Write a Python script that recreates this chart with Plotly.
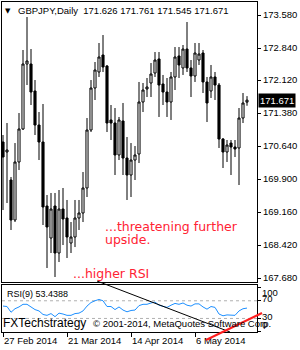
import plotly.graph_objects as go

# ---------------- data ----------------
dates = [
    "2014-02-27", "2014-02-28", "2014-03-03", "2014-03-04", "2014-03-05", "2014-03-06", "2014-03-07",
    "2014-03-10", "2014-03-11", "2014-03-12", "2014-03-13", "2014-03-14",
    "2014-03-17", "2014-03-18", "2014-03-19", "2014-03-20", "2014-03-21",
    "2014-03-24", "2014-03-25", "2014-03-26", "2014-03-27", "2014-03-28",
    "2014-03-31", "2014-04-01", "2014-04-02", "2014-04-03", "2014-04-04",
    "2014-04-07", "2014-04-08", "2014-04-09", "2014-04-10", "2014-04-11",
    "2014-04-14", "2014-04-15", "2014-04-16", "2014-04-17", "2014-04-18",
    "2014-04-21", "2014-04-22", "2014-04-23", "2014-04-24", "2014-04-25",
    "2014-04-28", "2014-04-29", "2014-04-30", "2014-05-01", "2014-05-02",
    "2014-05-05", "2014-05-06", "2014-05-07", "2014-05-08", "2014-05-09",
    "2014-05-12", "2014-05-13", "2014-05-14", "2014-05-15", "2014-05-16",
    "2014-05-19", "2014-05-20", "2014-05-21", "2014-05-22", "2014-05-23",
]

opens = [
    170.732, 170.508, 169.880, 168.983, 170.284, 171.024, 172.481, 172.481, 171.876, 171.113,
    170.732, 169.297, 168.579, 169.297, 168.243, 169.230, 169.028, 168.467, 168.602, 169.028,
    169.140, 169.701, 171.001, 171.943, 172.302, 172.683, 172.436, 171.226, 171.158, 170.441,
    171.203, 170.373, 169.992, 170.328, 170.463, 171.629, 171.921, 172.055, 172.279, 172.594,
    172.033, 171.853, 171.629, 172.190, 172.661, 172.392, 172.817, 172.392, 172.212, 172.571,
    172.728, 172.078, 171.876, 172.190, 172.010, 170.799, 170.508, 170.709, 170.620, 170.598,
    171.270, 171.626,
]
highs = [
    170.889, 171.158, 169.947, 170.709, 171.382, 172.795, 173.535, 172.817, 172.122, 171.405,
    171.584, 169.544, 169.589, 169.589, 169.656, 169.701, 169.432, 168.938, 169.432, 169.432,
    170.059, 171.270, 172.122, 172.526, 172.952, 173.131, 172.459, 171.562, 171.494, 171.293,
    171.607, 170.844, 170.709, 170.642, 172.078, 172.055, 172.167, 172.503, 172.750, 172.750,
    172.235, 172.167, 172.302, 172.862, 172.862, 172.907, 173.423, 172.571, 172.952, 172.952,
    172.795, 172.190, 172.459, 172.302, 172.055, 170.822, 170.777, 170.777, 170.777, 171.494,
    171.831, 171.761,
]
lows = [
    169.207, 169.364, 168.759, 168.938, 170.104, 171.001, 172.010, 171.562, 170.889, 170.328,
    168.871, 167.907, 168.243, 167.705, 168.041, 168.422, 168.131, 168.243, 168.377, 168.759,
    168.938, 169.499, 170.956, 171.674, 172.190, 172.302, 170.956, 170.777, 169.992, 170.328,
    169.992, 169.432, 169.499, 169.880, 170.261, 171.405, 171.741, 171.741, 172.190, 171.293,
    171.562, 171.293, 171.226, 171.898, 172.167, 172.235, 172.302, 171.741, 172.078, 172.459,
    171.831, 171.180, 171.719, 171.674, 170.598, 170.149, 170.284, 169.992, 170.396, 169.768,
    171.158, 171.545,
]
closes = [
    170.396, 170.553, 168.983, 170.284, 171.024, 172.481, 172.549, 171.853, 171.113, 170.732,
    169.275, 168.826, 169.230, 168.243, 169.230, 169.006, 168.602, 168.602, 169.028, 169.140,
    169.701, 171.001, 171.943, 172.347, 172.638, 172.414, 171.158, 171.158, 170.441, 171.226,
    170.373, 169.992, 170.328, 170.441, 171.629, 171.898, 171.966, 172.257, 172.571, 172.010,
    171.853, 171.629, 172.190, 172.638, 172.459, 172.817, 172.392, 172.212, 172.728, 172.705,
    172.078, 171.607, 172.190, 172.010, 170.799, 170.508, 170.665, 170.620, 170.575, 171.270,
    171.607, 171.671,
]
rsi = [
    58, 57, 44, 52, 56, 62, 62, 56, 50, 47,
    39, 37, 41, 34, 42, 40, 37, 37, 41, 42,
    47, 58, 66, 70, 73, 70, 57, 57, 50, 56,
    49, 45, 48, 49, 59, 62, 62, 65, 67, 60,
    58, 55, 60, 64, 62, 65, 60, 58, 63, 63,
    56, 51, 57, 55, 40, 36, 38, 37, 37, 47,
    52, 53.4388,
]
rsi_levels = [70, 30]

x_tick_dates = ["2014-02-27", "2014-03-21", "2014-04-14", "2014-05-06"]
x_tick_labels = ["27 Feb 2014", "21 Mar 2014", "14 Apr 2014", "6 May 2014"]
price_ticks = [173.580, 172.840, 172.120, 171.380, 170.640, 169.900, 169.160, 168.420, 167.680]
rsi_ticks = [100, 70, 30, 0]

# ---------------- layout helpers ----------------
W, H = 300, 350
ML, MR, MT, MB = 2, 43, 2, 18
PW = W - ML - MR          # 255
PH = H - MT - MB          # 330


def px_x(x):
    return (x - ML) / PW


def px_y(y):
    return (H - MB - y) / PH


AX_FONT = dict(family="Liberation Sans", size=9.5, color="black")
RED = "#FF2233"

fig = go.Figure()

fig.add_trace(go.Candlestick(
    x=dates, open=opens, high=highs, low=lows, close=closes,
    xaxis="x", yaxis="y",
    increasing=dict(line=dict(color="black", width=1), fillcolor="white"),
    decreasing=dict(line=dict(color="black", width=1), fillcolor="black"),
    whiskerwidth=0, showlegend=False, hoverinfo="skip",
))

fig.add_trace(go.Scatter(
    x=dates, y=rsi, xaxis="x2", yaxis="y2", mode="lines",
    line=dict(color="#1E90FF", width=1), showlegend=False, hoverinfo="skip",
))

xr = [-0.25, 63.5]
common_x = dict(type="category", range=xr, showgrid=False, zeroline=False,
                showline=True, mirror=True, linecolor="black", linewidth=1,
                categoryorder="array", categoryarray=dates, fixedrange=True)

fig.update_layout(
    width=W, height=H,
    margin=dict(l=ML, r=MR, t=MT, b=MB, pad=0),
    paper_bgcolor="white", plot_bgcolor="white",
    boxgap=0.25,
    showlegend=False,
    xaxis=dict(domain=[0, 1], anchor="y", showticklabels=False, ticks="",
               rangeslider=dict(visible=False), **common_x),
    xaxis2=dict(domain=[0, 1], anchor="y2", ticks="outside", ticklen=4,
                tickcolor="black", tickwidth=1,
                tickvals=x_tick_dates, ticktext=x_tick_labels,
                ticklabelposition="outside right", tickfont=AX_FONT,
                rangeslider=dict(visible=False), **common_x),
    yaxis=dict(domain=[px_y(282), 1], anchor="x", side="right",
               range=[167.593, 173.8715], tickvals=price_ticks,
               ticktext=[f"{v:.3f}" for v in price_ticks],
               ticks="outside", ticklen=3, tickcolor="black", tickfont=AX_FONT,
               showgrid=False, zeroline=False, showline=True, mirror=True,
               linecolor="black", linewidth=1, fixedrange=True),
    yaxis2=dict(domain=[0, px_y(285)], anchor="x2", side="right",
                range=[-0.7, 105.7], tickvals=rsi_ticks, showticklabels=False,
                ticks="outside", ticklen=3, tickcolor="black",
                showgrid=False, zeroline=False, showline=True, mirror=True,
                linecolor="black", linewidth=1, fixedrange=True),
)

# RSI level lines
for lv in rsi_levels:
    fig.add_shape(type="line", xref="paper", x0=0, x1=1, yref="y2", y0=lv, y1=lv,
                  line=dict(color="#B0B0B0", width=1, dash="3px,3px"), layer="below")

# trend lines drawn on the chart
fig.add_shape(type="line", xref="paper", yref="paper",
              x0=px_x(97), y0=px_y(281), x1=px_x(230), y1=px_y(332),
              line=dict(color="black", width=1))
fig.add_shape(type="line", xref="paper", yref="paper",
              x0=px_x(206), y0=px_y(340), x1=px_x(262), y1=px_y(313),
              line=dict(color="#FF1E1E", width=2))

ann = []
ann.append(dict(text="\u25BC", xref="paper", yref="paper", x=px_x(7.5), y=px_y(10.5),
                xanchor="center", yanchor="middle", showarrow=False,
                font=dict(family="DejaVu Sans", size=7, color="black")))
header = (f"GBPJPY,Daily\u00a0\u00a0{opens[-1]:.3f} {highs[-1]:.3f} "
          f"{lows[-1]:.3f} {closes[-1]:.3f}")
ann.append(dict(text=header, xref="paper", yref="paper", x=px_x(16), y=px_y(10.5),
                xanchor="left", yanchor="middle", showarrow=False, font=AX_FONT))
ann.append(dict(text="...threatening further", xref="paper", yref="paper",
                x=px_x(103), y=px_y(226.5), xanchor="left", yanchor="middle",
                showarrow=False, font=dict(family="DejaVu Sans", size=12.5, color=RED)))
ann.append(dict(text="upside.", xref="paper", yref="paper",
                x=px_x(103), y=px_y(239.5), xanchor="left", yanchor="middle",
                showarrow=False, font=dict(family="DejaVu Sans", size=12.5, color=RED)))
ann.append(dict(text="...higher RSI", xref="paper", yref="paper",
                x=px_x(71), y=px_y(273.5), xanchor="left", yanchor="middle",
                showarrow=False, font=dict(family="DejaVu Sans", size=12.5, color=RED)))
ann.append(dict(text=f"RSI(9) {rsi[-1]:.4f}", xref="paper", yref="paper",
                x=px_x(5), y=px_y(294), xanchor="left", yanchor="middle",
                showarrow=False, font=dict(family="Liberation Sans", size=9, color="black")))
ann.append(dict(text="FXTechstrategy", xref="paper", yref="paper",
                x=px_x(1), y=px_y(323), xanchor="left", yanchor="middle",
                showarrow=False, font=dict(family="Liberation Sans", size=12, color="black")))
ann.append(dict(text="\u00a9 2001-2014, MetaQuotes Software Corp.", xref="paper", yref="paper",
                x=px_x(91), y=px_y(323.5), xanchor="left", yanchor="middle",
                showarrow=False, font=AX_FONT))
# current price box
ann.append(dict(text=f"{closes[-1]:.3f}", xref="paper", yref="y", x=1, y=closes[-1],
                xanchor="left", yanchor="middle", xshift=1, showarrow=False,
                bgcolor="black", borderpad=1,
                font=dict(family="Liberation Sans", size=9.5, color="white")))
# RSI axis labels
rsi_shift = {100: -4.5, 70: 2, 30: 2, 0: 7}
for v in rsi_ticks:
    ann.append(dict(text=str(v), xref="paper", yref="y2", x=1, y=v,
                    xanchor="left", yanchor="middle", xshift=3, yshift=rsi_shift[v],
                    showarrow=False, font=AX_FONT))

fig.update_layout(annotations=ann)

fig.write_html("out.html", config={"displayModeBar": False})
